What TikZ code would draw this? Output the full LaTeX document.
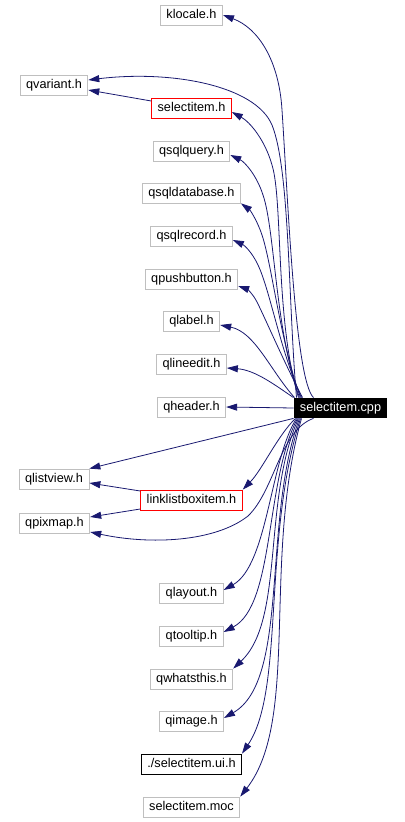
\documentclass[tikz,border=0pt]{standalone}
\usepackage{fontspec}
\setmainfont{Liberation Sans}
\usetikzlibrary{arrows.meta}
\definecolor{bluNotte}{HTML}{191970}
\definecolor{grigioBordo}{HTML}{BFBFBF}
\definecolor{rossoDoc}{HTML}{FF0000}

\begin{document}
\begin{tikzpicture}[x=1bp,y=-1bp,
  file/.style={font=\fontsize{12.7bp}{15bp}\selectfont,line width=0.8bp,
    inner xsep=6bp,inner ysep=0pt,minimum height=20bp,text height=9.5bp,text depth=2.5bp},
  intestazione/.style={file,draw=grigioBordo},
  documentato/.style={file,draw=rossoDoc},
  esterno/.style={file,draw=black},
  sorgente/.style={file,fill=black,text=white},
  inclusione/.style={draw=bluNotte,line width=0.8bp,
    -{Triangle[length=11bp,width=7bp]}}]
  \useasboundingbox (0,0) rectangle (404,822);
  % Colonna centrale dei file inclusi (nome / testo / y / stile).
  \foreach \nome/\testo/\y/\stile in {
    klocale/klocale.h/15/intestazione, selectitem/selectitem.h/108/documentato,
    qsqlquery/qsqlquery.h/151/intestazione, qsqldatabase/qsqldatabase.h/193/intestazione,
    qsqlrecord/qsqlrecord.h/236/intestazione, qpushbutton/qpushbutton.h/279/intestazione,
    qlabel/qlabel.h/321/intestazione, qlineedit/qlineedit.h/364/intestazione,
    qheader/qheader.h/407/intestazione, linklistboxitem/linklistboxitem.h/500/documentato,
    qlayout/qlayout.h/593/intestazione, qtooltip/qtooltip.h/636/intestazione,
    qwhatsthis/qwhatsthis.h/679/intestazione, qimage/qimage.h/721/intestazione,
    uih/{./selectitem.ui.h}/764/esterno, moc/selectitem.moc/807/intestazione}{
    \node[\stile] (\nome) at (191.5,\y) {\testo};
  }
  % Colonna di sinistra e file sorgente.
  \node[intestazione] (qvariant) at (54,85) {qvariant.h};
  \node[intestazione] (qlistview) at (54,479) {qlistview.h};
  \node[intestazione] (qpixmap) at (54.5,523) {qpixmap.h};
  \node[sorgente] (cpp) at (340.5,408) {selectitem.cpp};
  % Inclusioni verso l'alto, in fascio dal bordo superiore.
  \draw[inclusione] ([xshift=20bp]cpp.north west) .. controls (295,380) and (288,200) .. (282,110)
    .. controls (279,60) and (258,28) .. (klocale.east);
  \draw[inclusione] ([xshift=3bp]cpp.north west) .. controls (288,300) and (290,170) .. (272,125)
    .. controls (255,85) and (170,70) .. ([yshift=5bp]qvariant.east);
  \draw[inclusione] ([xshift=5bp]cpp.north west) .. controls (275,320) and (283,200) .. (272,165)
    .. controls (265,140) and (250,122) .. ([yshift=-4bp]selectitem.east);
  \draw[inclusione] ([xshift=6bp]cpp.north west) .. controls (275,330) and (275,230) .. (263,195)
    .. controls (257,176) and (245,162) .. ([yshift=-4bp]qsqlquery.east);
  \draw[inclusione] ([xshift=7bp]cpp.north west) .. controls (280,340) and (272,265) .. (262,235)
    .. controls (257,220) and (250,210) .. (qsqldatabase.south east);
  \draw[inclusione] ([xshift=8bp]cpp.north west) .. controls (280,350) and (270,290) .. (258,265)
    .. controls (252,252) and (244,245) .. ([yshift=-4bp]qsqlrecord.east);
  \draw[inclusione] ([xshift=9bp]cpp.north west) .. controls (283,360) and (266,320) .. (257,302)
    .. controls (253,294) and (247,289) .. ([yshift=-7bp]qpushbutton.east);
  \draw[inclusione] ([xshift=1bp]cpp.north west) .. controls (270,370) and (255,332) .. ([yshift=-4bp]qlabel.east);
  \draw[inclusione] (cpp.north west) .. controls (275,385) and (255,370) .. ([yshift=-4bp]qlineedit.east);
  \draw[inclusione] (cpp.west) -- (qheader.east);
  % Inclusioni verso il basso, dal bordo inferiore.
  \draw[inclusione] (cpp.south west) -- (qlistview.north east);
  \draw[inclusione] ([xshift=2bp]cpp.south west) .. controls (278,435) and (262,470) .. (linklistboxitem.north east);
  \draw[inclusione] ([xshift=20bp]cpp.south west) .. controls (280,430) and (275,490) .. (248,516)
    .. controls (215,542) and (150,545) .. ([yshift=-9bp]qpixmap.east);
  \draw[inclusione] ([xshift=3bp]cpp.south west) .. controls (270,460) and (268,565) .. ([yshift=3bp]qlayout.east);
  \draw[inclusione] ([xshift=4bp]cpp.south west) .. controls (265,480) and (275,605) .. ([yshift=4bp]qtooltip.east);
  \draw[inclusione] ([xshift=5bp]cpp.south west) .. controls (262,500) and (285,620) .. (qwhatsthis.north east);
  \draw[inclusione] ([xshift=6bp]cpp.south west) .. controls (262,520) and (290,680) .. ([yshift=3bp]qimage.east);
  \draw[inclusione] ([xshift=7bp]cpp.south west) .. controls (262,540) and (285,690) .. (uih.north east);
  \draw[inclusione] ([xshift=8bp]cpp.south west) .. controls (262,560) and (300,720) .. (moc.north east);
  % Inclusioni tra intestazioni.
  \draw[inclusione] ([yshift=7bp]selectitem.west) -- ([yshift=-5bp]qvariant.east);
  \draw[inclusione] ([yshift=9bp]linklistboxitem.west) -- ([yshift=-4bp]qlistview.east);
  \draw[inclusione] ([yshift=-9bp]linklistboxitem.west) -- ([yshift=6bp]qpixmap.east);
\end{tikzpicture}
\end{document}
